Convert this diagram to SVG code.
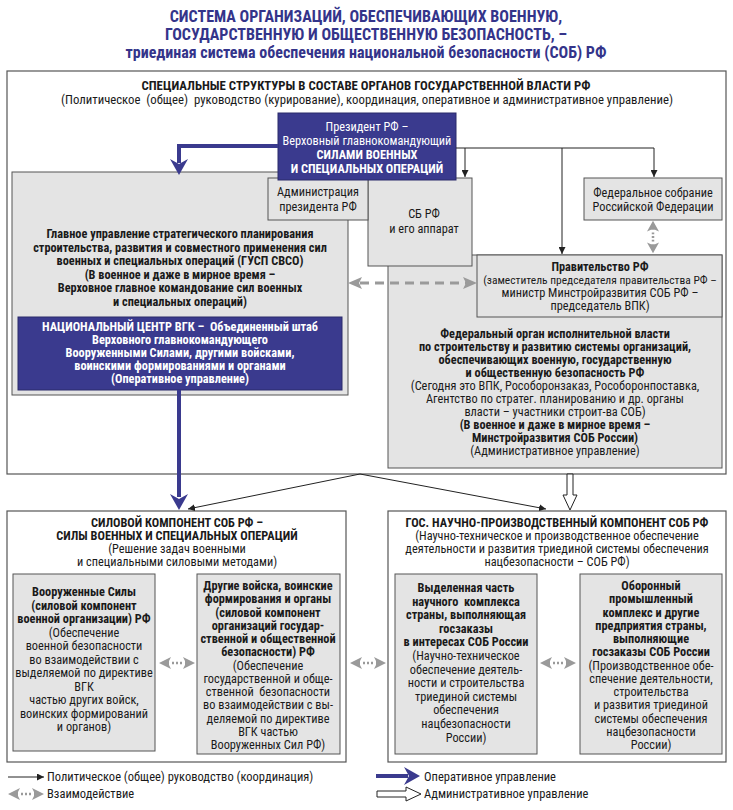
<svg xmlns="http://www.w3.org/2000/svg" width="733" height="810" viewBox="0 0 733 810">
<style>
text{font-family:"Liberation Sans Narrow","Roboto Condensed","DejaVu Sans Condensed","Liberation Sans",sans-serif;font-stretch:condensed;font-size:12.3px;fill:#1a1a1a;text-anchor:middle}
.b{font-weight:bold}
.ttl{font-size:16px;font-weight:bold;fill:#34348a}
.w{fill:#fff}
.l{text-anchor:start}
.pre{white-space:pre}
.box{fill:#fff;stroke:#555;stroke-width:1.2}
.gray{fill:#e4e4e4;stroke:#555;stroke-width:1}
.blue{fill:#3a3a8e;stroke:#2a2a6a;stroke-width:1}
.thin{fill:none;stroke:#222;stroke-width:1}
.op{fill:none;stroke:#3a3a8e;stroke-width:4}
</style>
<defs>
<marker id="ah" viewBox="0 0 10 10" refX="10" refY="5" markerWidth="7" markerHeight="7" orient="auto" markerUnits="userSpaceOnUse">
<path d="M0,0 L10,5 L0,10 Z" fill="#222"/>
</marker>
<g id="ia">
<path d="M-18,0 L-6,-6 L-8,-2 L-8,2 L-6,6 Z M18,0 L6,-6 L8,-2 L8,2 L6,6 Z" fill="#9a9a9a"/>
<path d="M-5,0 H5" stroke="#9a9a9a" stroke-width="2.5" stroke-dasharray="2,2"/>
</g>
<path id="bhead" d="M0,0 L-16,-9 L-11,0 L-16,9 Z" fill="#3a3a8e"/>
</defs>

<g id="title">
<text class="ttl" x="366" y="22">СИСТЕМА ОРГАНИЗАЦИЙ, ОБЕСПЕЧИВАЮЩИХ ВОЕННУЮ,</text>
<text class="ttl" x="366" y="40">ГОСУДАРСТВЕННУЮ И ОБЩЕСТВЕННУЮ БЕЗОПАСНОСТЬ, –</text>
<text class="ttl" x="366" y="58">триединая система обеспечения национальной безопасности (СОБ) РФ</text>
</g>

<g id="top-structures">
<rect class="box" x="7" y="71" width="719" height="403"/>
<text class="b" x="366" y="90" style="font-size:12.8px">СПЕЦИАЛЬНЫЕ СТРУКТУРЫ В СОСТАВЕ ОРГАНОВ ГОСУДАРСТВЕННОЙ ВЛАСТИ РФ</text>
<text class="pre" xml:space="preserve" x="367" y="104" textLength="612" lengthAdjust="spacingAndGlyphs">(Политическое  (общее)  руководство (курирование), координация, оперативное и административное управление)</text>
</g>

<g id="gusp">
<rect class="gray" x="12" y="172" width="336" height="223"/>
<text class="b" x="180" y="238">Главное управление стратегического планирования</text>
<text class="b" x="180" y="252">строительства, развития и совместного применения сил</text>
<text class="b" x="180" y="265">военных и специальных операций (ГУСП СВСО)</text>
<text class="b" x="180" y="279">(В военное и даже в мирное время –</text>
<text class="b" x="180" y="292">Верховное главное командование сил военных</text>
<text class="b" x="180" y="306">и специальных операций)</text>
</g>

<g id="nc-vgk">
<rect class="blue" x="18" y="317" width="324" height="73"/>
<text class="b w pre" xml:space="preserve" x="180" y="331">НАЦИОНАЛЬНЫЙ ЦЕНТР ВГК –  Объединенный штаб</text>
<text class="b w" x="180" y="344">Верховного главнокомандующего</text>
<text class="b w" x="180" y="357">Вооруженными Силами, другими войсками,</text>
<text class="b w" x="180" y="370">воинскими формированиями и органами</text>
<text class="b w" x="180" y="383">(Оперативное управление)</text>
</g>

<g id="fed-organ">
<rect class="gray" x="388" y="255" width="334" height="213"/>
<text class="b" x="555" y="338">Федеральный орган исполнительной власти</text>
<text class="b" x="555" y="351">по строительству и развитию системы организаций,</text>
<text class="b" x="555" y="364">обеспечивающих военную, государственную</text>
<text class="b" x="555" y="377">и общественную безопасность РФ</text>
<text x="555" y="390">(Сегодня это ВПК, Рособоронзаказ, Рособоронпоставка,</text>
<text x="555" y="403">Агентство по стратег. планированию и др. органы</text>
<text x="555" y="416">власти – участники строит-ва СОБ)</text>
<text class="b" x="555" y="429">(В военное и даже в мирное время –</text>
<text class="b" x="555" y="442">Минстройразвития СОБ России)</text>
<text x="555" y="455">(Административное управление)</text>
</g>

<g id="sb">
<rect class="gray" x="368" y="178" width="104" height="88"/>
<text x="424" y="218">СБ РФ</text>
<text x="424" y="233">и его аппарат</text>
</g>

<g id="admin">
<rect class="gray" x="268" y="178" width="100" height="42"/>
<text x="318" y="196">Администрация</text>
<text x="318" y="211">президента РФ</text>
</g>

<g id="president">
<rect class="blue" x="278" y="113" width="178" height="67"/>
<text class="w" x="367" y="131">Президент РФ –</text>
<text class="w" x="367" y="145">Верховный главнокомандующий</text>
<text class="b w" x="367" y="159">СИЛАМИ ВОЕННЫХ</text>
<text class="b w" x="367" y="173">И СПЕЦИАЛЬНЫХ ОПЕРАЦИЙ</text>
</g>

<g id="government">
<rect class="gray" x="477" y="255" width="245" height="62"/>
<text class="b" x="600" y="271">Правительство РФ</text>
<text x="600" y="284" style="font-size:11.5px">(заместитель председателя правительства РФ –</text>
<text x="600" y="297">министр Минстройразвития СОБ РФ –</text>
<text x="600" y="310">председатель ВПК)</text>
</g>

<g id="fed-assembly">
<rect class="gray" x="584" y="178" width="138" height="42"/>
<text x="653" y="197">Федеральное собрание</text>
<text x="653" y="211">Российской Федерации</text>
</g>

<g id="power-component">
<rect class="box" x="7" y="511" width="339" height="251"/>
<text class="b" x="177" y="527">СИЛОВОЙ КОМПОНЕНТ СОБ РФ –</text>
<text class="b" x="177" y="540">СИЛЫ ВОЕННЫХ И СПЕЦИАЛЬНЫХ ОПЕРАЦИЙ</text>
<text x="177" y="553">(Решение задач военными</text>
<text x="177" y="566">и специальными силовыми методами)</text>
</g>

<g id="armed-forces">
<rect class="gray" x="13" y="574" width="142" height="177"/>
<text class="b" x="84" y="596">Вооруженные Силы</text>
<text class="b" x="84" y="609.5">(силовой компонент</text>
<text class="b" x="84" y="623">военной организации) РФ</text>
<text x="84" y="636.5">(Обеспечение</text>
<text x="84" y="650">военной безопасности</text>
<text x="84" y="663.5">во взаимодействии с</text>
<text x="84" y="677">выделяемой по директиве</text>
<text x="84" y="690.5">ВГК</text>
<text x="84" y="704">частью других войск,</text>
<text x="84" y="717.5">воинских формирований</text>
<text x="84" y="731">и органов)</text>
</g>

<g id="other-troops">
<rect class="gray" x="197" y="574" width="143" height="180"/>
<text class="b" x="268" y="590">Другие войска, воинские</text>
<text class="b" x="268" y="603.2">формирования и органы</text>
<text class="b" x="268" y="616.5">(силовой компонент</text>
<text class="b" x="268" y="629.7">организаций государ-</text>
<text class="b" x="268" y="643">ственной и общественной</text>
<text class="b" x="268" y="656.2">безопасности) РФ</text>
<text x="268" y="669.5">(Обеспечение</text>
<text x="268" y="682.7">государственной и обще-</text>
<text class="pre" xml:space="preserve" x="268" y="696">ственной  безопасности</text>
<text x="268" y="709.2">во взаимодействии с вы-</text>
<text x="268" y="722.5">деляемой по директиве</text>
<text x="268" y="735.7">ВГК частью</text>
<text x="268" y="749">Вооруженных Сил РФ)</text>
</g>

<g id="science-component">
<rect class="box" x="388" y="511" width="338" height="251"/>
<text class="b" x="557" y="527">ГОС. НАУЧНО-ПРОИЗВОДСТВЕННЫЙ КОМПОНЕНТ СОБ РФ</text>
<text x="557" y="540">(Научно-техническое и производственное обеспечение</text>
<text x="557" y="553">деятельности и развития триединой системы обеспечения</text>
<text x="557" y="566">нацбезопасности – СОБ РФ)</text>
</g>

<g id="science-part">
<rect class="gray" x="395" y="574" width="142" height="180"/>
<text class="b" x="466" y="592">Выделенная часть</text>
<text class="b pre" xml:space="preserve" x="466" y="605.6">научного  комплекса</text>
<text class="b" x="466" y="619.2">страны, выполняющая</text>
<text class="b" x="466" y="632.8">госзаказы</text>
<text class="b" x="466" y="646.4">в интересах СОБ России</text>
<text x="466" y="660">(Научно-техническое</text>
<text x="466" y="673.6">обеспечение деятель-</text>
<text x="466" y="687.2">ности и строительства</text>
<text x="466" y="700.8">триединой системы</text>
<text x="466" y="714.4">обеспечения</text>
<text x="466" y="728">нацбезопасности</text>
<text x="466" y="741.6">России)</text>
</g>

<g id="defense-industry">
<rect class="gray" x="580" y="574" width="142" height="180"/>
<text class="b" x="651" y="590">Оборонный</text>
<text class="b" x="651" y="603.2">промышленный</text>
<text class="b" x="651" y="616.5">комплекс и другие</text>
<text class="b" x="651" y="629.7">предприятия страны,</text>
<text class="b" x="651" y="643">выполняющие</text>
<text class="b" x="651" y="656.2">госзаказы СОБ России</text>
<text x="651" y="669.5">(Производственное обе-</text>
<text x="651" y="682.7">спечение деятельности,</text>
<text x="651" y="696">строительства</text>
<text x="651" y="709.2">и развития триединой</text>
<text x="651" y="722.5">системы обеспечения</text>
<text x="651" y="735.7">нацбезопасности</text>
<text x="651" y="749">России)</text>
</g>

<g id="connectors">
<path class="op" d="M278,146 H179 V163"/>
<use href="#bhead" transform="translate(179,175) rotate(90)"/>
<path class="op" d="M179,390 V497"/>
<use href="#bhead" transform="translate(179,510) rotate(90)"/>
<path class="thin" d="M456,148 H654 V177" marker-end="url(#ah)"/>
<path class="thin" d="M465,148 V177" marker-end="url(#ah)"/>
<path class="thin" d="M562,148 V254" marker-end="url(#ah)"/>
<path class="thin" d="M360,474 L188,509" marker-end="url(#ah)"/>
<path class="thin" d="M360,474 L546,509" marker-end="url(#ah)"/>
<path d="M360,283 H466" stroke="#9a9a9a" stroke-width="3" stroke-dasharray="9,6" fill="none"/>
<path d="M348,283 L362,277 L359,283 L362,289 Z M477,283 L463,277 L466,283 L463,289 Z" fill="#9a9a9a"/>
<use href="#ia" transform="translate(653,237) rotate(90) scale(0.9,1)"/>
<use href="#ia" transform="translate(177,663)"/>
<use href="#ia" transform="translate(368,663)"/>
<use href="#ia" transform="translate(558,663)"/>
<path d="M567,474 V495 H563 L570,510 L577,495 H573 V474 Z" fill="#fff" stroke="#222" stroke-width="1"/>
</g>

<g id="legend">
<path class="thin" d="M8,777 H44" marker-end="url(#ah)"/>
<text class="l" x="47" y="781" style="font-size:12.5px">Политическое (общее) руководство (координация)</text>
<use href="#ia" transform="translate(26,794)"/>
<text class="l" x="47" y="798" style="font-size:12.5px">Взаимодействие</text>
<path class="op" d="M376,776 H408"/>
<use href="#bhead" transform="translate(420,776)"/>
<text class="l" x="424" y="781" style="font-size:12.5px">Оперативное управление</text>
<path d="M377,791 H406 V787 L421,794 L406,801 V797 H377 Z" fill="#fff" stroke="#222" stroke-width="1"/>
<text class="l" x="424" y="798" style="font-size:12.5px">Административное управление</text>
</g>
</svg>
